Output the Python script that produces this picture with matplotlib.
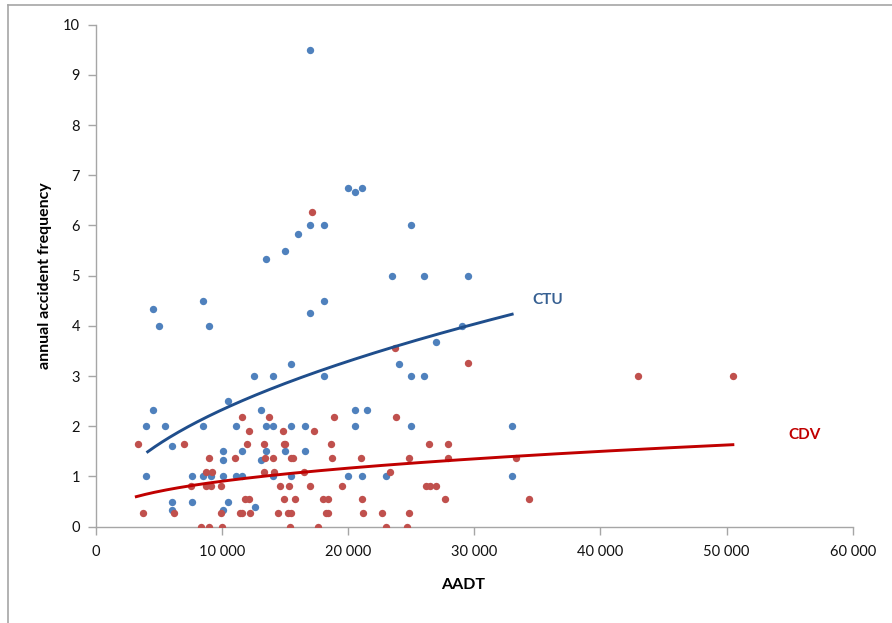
import numpy as np
import matplotlib.pyplot as plt
from matplotlib.lines import Line2D
from matplotlib.ticker import FuncFormatter

plt.rcParams['font.family'] = ['Lato', 'DejaVu Sans']

# CTU points (AADT, annual accident frequency)
ctu_x = [17000, 20000, 20550, 21100, 17000, 18100, 25000, 16000, 15000, 13500,
         23500, 26000, 29500, 4500, 5000, 8500, 9000, 18100, 17000, 29000, 27000,
         15500, 24000, 12500, 14000, 18100, 25000, 26000, 10500,
         4500, 13100, 20550, 21500,
         4000, 5500, 8500, 11100, 13500, 14000, 15500, 16600, 20550, 25000, 33000,
         6000, 10100, 11600, 13500, 15000, 16600, 10100, 13100,
         4000, 7600, 8500, 9100, 10100, 11100, 11600, 14000, 15500, 20000, 21100, 23000, 33000,
         6000, 7600, 10500, 12600, 6000, 10100]
ctu_y = [9.5, 6.75, 6.67, 6.75, 6.0, 6.0, 6.0, 5.83, 5.5, 5.33,
         5.0, 5.0, 5.0, 4.33, 4.0, 4.5, 4.0, 4.5, 4.25, 4.0, 3.67,
         3.25, 3.25, 3.0, 3.0, 3.0, 3.0, 3.0, 2.5,
         2.33, 2.33, 2.33, 2.33,
         2.0, 2.0, 2.0, 2.0, 2.0, 2.0, 2.0, 2.0, 2.0, 2.0, 2.0,
         1.6, 1.5, 1.5, 1.5, 1.5, 1.5, 1.33, 1.33,
         1.0, 1.0, 1.0, 1.0, 1.0, 1.0, 1.0, 1.0, 1.0, 1.0, 1.0, 1.0, 1.0,
         0.5, 0.5, 0.5, 0.4, 0.33, 0.33]

# CDV points
cdv_x = [17100, 23700, 29500, 43000, 50500,
         11600, 13700, 18900, 23800,
         12150, 14800, 17300,
         3300, 7000, 12000, 13300, 14900, 15000, 18600, 26400, 27900,
         9000, 11000, 13400, 14050, 15500, 15650, 18700, 21000, 24800, 27900, 33300,
         8700, 9200, 13300, 14100, 16500, 23300,
         7500, 8700, 9100, 9900, 14600, 15300, 17000, 19500, 26200, 26500, 27000,
         11800, 12150, 14900, 15750, 18000, 18400, 21100, 27700, 34300,
         3700, 6200, 9900, 11400, 11600, 12200, 14400, 15200, 15500, 18200, 18400, 21200, 22700, 24800,
         8300, 8950, 10000, 15400, 17600, 23000, 24700]
cdv_y = [6.27, 3.55, 3.27, 3.0, 3.0,
         2.18, 2.18, 2.18, 2.18,
         1.91, 1.91, 1.91,
         1.64, 1.64, 1.64, 1.64, 1.64, 1.64, 1.64, 1.64, 1.64,
         1.36, 1.36, 1.36, 1.36, 1.36, 1.36, 1.36, 1.36, 1.36, 1.36, 1.36,
         1.09, 1.09, 1.09, 1.09, 1.09, 1.09,
         0.82, 0.82, 0.82, 0.82, 0.82, 0.82, 0.82, 0.82, 0.82, 0.82, 0.82,
         0.55, 0.55, 0.55, 0.55, 0.55, 0.55, 0.55, 0.55, 0.55,
         0.27, 0.27, 0.27, 0.27, 0.27, 0.27, 0.27, 0.27, 0.27, 0.27, 0.27, 0.27, 0.27, 0.27,
         0, 0, 0, 0, 0, 0, 0]

# power trend lines y = a * x^b
ctu_a, ctu_b, ctu_range = 0.0233, 0.5, (4100, 33000)
cdv_a, cdv_b, cdv_range = 0.0317, 0.364, (3200, 50500)

fig = plt.figure(figsize=(8.92, 6.23), dpi=100)
ax = fig.add_axes([0.1076, 0.1546, 0.8483, 0.8058])

ax.scatter(ctu_x, ctu_y, s=28, color='#4F81BD', zorder=3, linewidths=0)
ax.scatter(cdv_x, cdv_y, s=28, color='#C0504D', zorder=3, linewidths=0)

xs = np.linspace(*ctu_range, 200)
ax.plot(xs, ctu_a * xs ** ctu_b, color='#1F4E8C', lw=2.1, zorder=4)
xs = np.linspace(*cdv_range, 200)
ax.plot(xs, cdv_a * xs ** cdv_b, color='#C00000', lw=2.1, zorder=4)

ax.text(35800, 4.52, 'CTU', color='#376092', fontsize=11, fontweight='bold', ha='center', va='center')
ax.text(56200, 1.83, 'CDV', color='#C00000', fontsize=11, fontweight='bold', ha='center', va='center')

ax.set_xlim(0, 60000)
ax.set_ylim(0, 10)
ax.set_xticks(range(0, 60001, 10000))
ax.set_yticks(range(0, 11))
ax.xaxis.set_major_formatter(FuncFormatter(lambda v, p: f'{int(v):,}'.replace(',', ' ')))

for s in ['top', 'right']:
    ax.spines[s].set_visible(False)
for s in ['left', 'bottom']:
    ax.spines[s].set_color('#A6A6A6')
    ax.spines[s].set_linewidth(1.0)
ax.tick_params(axis='both', color='#A6A6A6', length=5.5, width=1.0, labelsize=10.5, labelcolor='#111111')
ax.tick_params(axis='x', pad=8)
ax.tick_params(axis='y', pad=6)

ax.set_xlabel('AADT', fontsize=11.5, fontweight='bold')
ax.set_ylabel('annual accident frequency', fontsize=11.5, fontweight='bold')
ax.xaxis.set_label_coords(0.485, -0.116)
ax.xaxis.label.set_va('center')
ax.yaxis.set_label_coords(-0.067, 0.5)
ax.yaxis.label.set_va('center')

# chart area border
fig.add_artist(Line2D([0.009, 1.0], [0.992, 0.992], color='#A6A6A6', lw=1.2))
fig.add_artist(Line2D([0.009, 0.009], [0.0, 0.992], color='#A6A6A6', lw=1.2))

fig.savefig('out.png', dpi=100)
